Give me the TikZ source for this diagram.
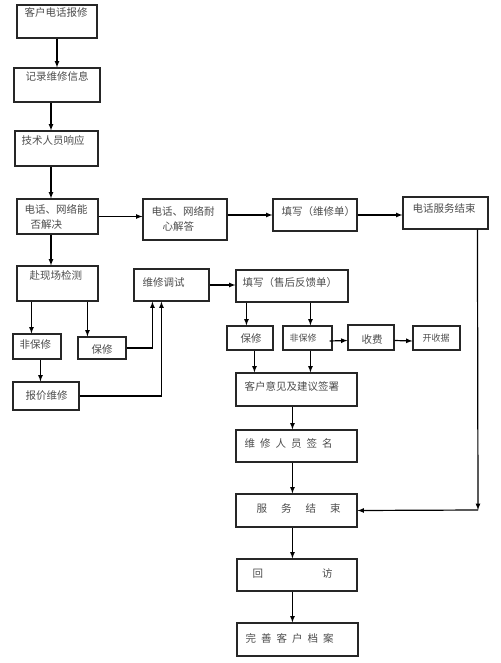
\documentclass[tikz,border=0pt]{standalone}
\usepackage{fontspec}
\setmainfont{Noto Sans CJK SC}
\usetikzlibrary{shapes,arrows}
\tikzstyle{box}=[draw=black!85,line width=1.1pt,shape=rectangle,inner sep=0pt]
\tikzstyle{txt}=[black!70,inner sep=0pt,anchor=west,align=left,font=\fontsize{10.5}{15}\selectfont]
\tikzstyle{small}=[font=\fontsize{9}{11}\selectfont]
\tikzstyle{myarrow}=[line width=1.2pt,>=latex,->]
\newcommand{\gap}[1]{\hspace{#1pt}}

\begin{document}
\begin{tikzpicture}[x=1pt,y=-1pt]
		\useasboundingbox (0,0) rectangle (500,663);
		% boxes: name / left / top / right / bottom
		\foreach \n / \l / \t / \r / \b in {call/17/5/97/38, rec/14/68/100/102, resp/15/131/98/166,
			solve/17/199/98/234, answer/143/199/227/240, form/273/199/357/231, telend/403/197/488/229,
			site/17/266/98/301, debug/134/269/209/301, nwarr/13/334/61/359, warr/78/337/126/359, quote/13/382/79/410,
			fb/236/270/348/302, warr2/227/326/273/350, nwarr2/283/326/332/350, fee/348/325/394/350, receipt/413/326/460/350,
			opinion/236/373/357/406, sign/236/430/357/462, done/236/494/357/527, visit/237/559/357/591, archive/237/623/358/656}
		{ \node[box,minimum width=\r-\l,minimum height=\b-\t] (\n) at ({(\l+\r)/2},{(\t+\b)/2}) {}; }

		% texts: name / dx / dy / text
		\foreach \n / \dx / \dy / \s in {call/8/8/客户电话报修, rec/12/9/记录维修信息, resp/7/10/技术人员响应,
			solve/8/19/{电话、网络能\\\hspace*{6pt}否解决}, answer/9/21/{电话、网络耐\\\hspace*{11pt}心解答},
			form/9/13/填写（维修单）, telend/10/12/电话服务结束, site/13/10/赴现场检测, debug/9/14/维修调试,
			nwarr/7/11/非保修, warr/14/13/保修, quote/13/14/报价维修, fb/7/13/填写（售后反馈单）,
			warr2/14/13/保修, fee/14/15/收费,
			opinion/9/14/客户意见及建议签署, sign/9/14/{维\gap{5}修\gap{5}人\gap{5}员\gap{5}签\gap{5}名},
			done/21/15/{服\gap{14}务\gap{14}结\gap{14}束}, visit/16/15/{回\gap{59}访},
			archive/9/16/{完\gap{5}善\gap{5}客\gap{5}户\gap{5}档\gap{5}案}}
		{ \node[txt] (\n-t) at ([xshift=\dx pt,yshift=-\dy pt]\n.north west) {\s}; }
		\node[txt,small] (nwarr2-t) at ([xshift=7pt,yshift=-13pt]nwarr2.north west) {非保修};
		\node[txt,small] (receipt-t) at ([xshift=10pt,yshift=-13pt]receipt.north west) {开收据};

		% left column
		\draw[myarrow] (call) -- (rec);
		\draw[myarrow] ([xshift=-6pt]rec.south) -- ([xshift=-6pt]rec.south |- resp.north);
		\draw[myarrow] ([xshift=-6pt]rec.south |- resp.south) -- ([xshift=-6pt]rec.south |- solve.north);
		\draw[myarrow] ([xshift=-6pt]rec.south |- solve.south) -- ([xshift=-6pt]rec.south |- site.north);
		\draw[myarrow] ([xshift=15pt]site.south west) -- ([xshift=19pt]nwarr.north west);
		\draw[myarrow] ([xshift=71pt]site.south west) -- ([xshift=10pt]warr.north west);
		\draw[myarrow] ([xshift=28pt]nwarr.south west) -- ([xshift=28pt]quote.north west);
		\draw[myarrow] (warr.east) -| ([xshift=19pt]debug.south west);
		\draw[myarrow] (quote.east) -| ([xshift=28pt]debug.south west);

		% phone branch
		\draw[myarrow] (solve.east) -- (solve.east -| answer.west);
		\draw[myarrow] (answer.east |- form.west) -- (form.west);
		\draw[myarrow] (form.east) -- (form.east -| telend.west);

		% on-site branch
		\draw[myarrow] (debug.east) -- (debug.east -| fb.west);
		\draw[myarrow] ([xshift=11pt]fb.south west) -- ([xshift=20pt]warr2.north west);
		\draw[myarrow] ([xshift=75pt]fb.south west) -- ([xshift=28pt]nwarr2.north west);
		\draw[myarrow] ([xshift=-3pt,yshift=-3pt]nwarr2.east) -- ([yshift=-3pt]fee.west);
		\draw[myarrow] ([yshift=-3pt]fee.east) -- ([yshift=-3pt]receipt.west);
		\draw[myarrow] ([xshift=28pt]warr2.south west) -- ([xshift=19pt]opinion.north west);
		\draw[myarrow] ([xshift=28pt]nwarr2.south west) -- ([xshift=75pt]opinion.north west);

		% bottom column
		\draw[myarrow] ([xshift=57pt]opinion.south west) -- ([xshift=57pt]sign.north west);
		\draw[myarrow] ([xshift=57pt]sign.south west) -- ([xshift=57pt]done.north west);
		\draw[myarrow] ([xshift=57pt]done.south west) -- ([xshift=56pt]visit.north west);
		\draw[myarrow] ([xshift=56pt]visit.south west) -- ([xshift=56pt]archive.north west);

		% phone service end back to service end
		\coordinate (turn) at (478,510);
		\draw[myarrow] ([xshift=75pt]telend.south west) -- (turn);
		\draw[myarrow] (turn) -- (done.east);
	\end{tikzpicture}
\end{document}
